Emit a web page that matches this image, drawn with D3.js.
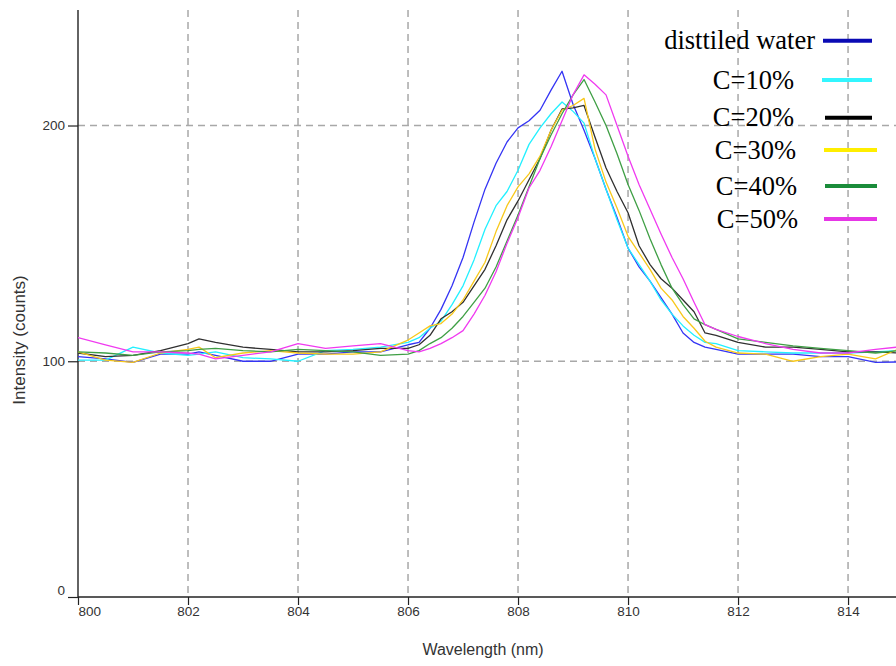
<!DOCTYPE html>
<html>
<head>
<meta charset="utf-8">
<script src="https://cdn.jsdelivr.net/npm/d3@7"></script>
<style>
  html, body { margin: 0; padding: 0; background: #fff; }
  svg { display: block; }
</style>
</head>
<body>
<svg id="chart" width="896" height="666"></svg>
<script>
// ---------------- data ----------------
const wavelengths = [800.0, 800.5, 801.0, 801.5, 802.0, 802.2, 802.5, 803.0, 803.5, 804.0, 804.5, 805.0, 805.5,
  806.0, 806.2, 806.4, 806.6, 806.8, 807.0, 807.2, 807.4, 807.6, 807.8, 808.0, 808.2, 808.4, 808.6,
  808.8, 809.0, 809.2, 809.4, 809.6, 809.8, 810.0, 810.2, 810.4, 810.6, 810.8, 811.0, 811.2, 811.4,
  811.6, 812.0, 812.5, 813.0, 813.5, 814.0, 814.5, 814.9];

const distilledWater = [102, 101, 99.5, 103, 103, 104, 102.5, 100, 100, 103, 103, 104, 104,
  107, 108, 114, 122, 132, 144, 159, 173, 184, 193, 199, 202, 206.5, 215,
  223, 209, 198, 186, 173, 161, 148, 140, 134, 127, 120, 112, 108, 106,
  105, 103, 103, 103, 102, 102, 99.5, 99.7];

const c10 = [100.5, 100.5, 106, 103.5, 102.5, 103, 104, 101.5, 101, 100, 104.5, 105, 106,
  108, 110, 114, 117, 124, 132, 143, 156, 166, 172, 181, 192, 199, 205,
  210, 206, 201, 186, 173, 160, 148, 141, 134, 126, 120, 115, 111, 108,
  107.5, 104.5, 104, 103.5, 103.5, 103.5, 104, 104.5];

const c20 = [103.5, 102, 102.5, 104.5, 107.5, 109.5, 108, 106, 105, 104, 104, 104.5, 105.5,
  105.5, 107, 111, 118, 121, 125, 132, 139, 149, 160, 168, 177, 186, 198,
  207, 207.5, 208.5, 195, 182, 172, 163, 149, 141, 135, 131, 126, 121, 112,
  111, 108, 106, 106, 105, 104, 104, 103.5];

const c30 = [104, 100.5, 99.5, 103.5, 105, 106, 101.5, 103.5, 104.5, 103.5, 103, 103, 104,
  109, 112, 115, 116, 120, 126, 134, 142, 155, 166, 174, 179.5, 187, 198,
  206.5, 208.5, 211.5, 190, 176, 165, 153, 146, 139, 131, 126, 119, 114, 108.5,
  106, 103.5, 103, 100, 102, 103, 101, 105];

const c40 = [104, 103.5, 102.5, 104, 104.5, 105, 105.5, 104.5, 104, 105, 104.5, 104, 102.5,
  103, 104.5, 107.5, 110, 114, 119, 125, 131, 140, 151, 162, 174, 186, 196,
  205, 213, 219.5, 210, 200, 188, 175, 164, 152, 141, 131, 124, 118, 115.5,
  113.5, 109.5, 108, 106.5, 105.5, 104.5, 103.5, 104.5];

const c50 = [110, 107, 104, 104, 103.5, 103, 101, 102.5, 104, 107.5, 105.5, 106.5, 107.5,
  104.5, 104, 105.5, 107.5, 110, 113, 120, 128, 138, 150, 161, 173.5, 181, 191,
  202, 213, 221.5, 217.5, 213, 200, 187, 175, 164.5, 154, 144, 135, 125, 115.5,
  113.5, 110.5, 107.5, 105, 103.5, 103.5, 105, 106];

const seriesNames = ["disttiled water", "C=10%", "C=20%", "C=30%", "C=40%", "C=50%"];
const seriesValues = [distilledWater, c10, c20, c30, c40, c50];
const lineColors = ["#3434f4", "#22f0ff", "#303030", "#f8c81a", "#3f9f45", "#f03af0"];
const legendColors = ["#0a0ab4", "#33f6ff", "#000000", "#ffee00", "#1a8c3a", "#e636e6"];

const xTicks = [800, 802, 804, 806, 808, 810, 812, 814];
const yTicks = [0, 100, 200];
const xGrid = [802, 804, 806, 808, 810, 812, 814];
const yGrid = [100, 200];

// ---------------- layout ----------------
const W = 896, H = 666;
const mLeft = 78, mRight = 897, mTop = 10, mBottom = 597;
const svg = d3.select("#chart");

const x = d3.scaleLinear().domain([800, 814.89]).range([mLeft, mRight]);
const y = d3.scaleLinear().domain([0, 249]).range([mBottom, mTop]);

svg.append("defs").append("clipPath").attr("id", "plotclip")
  .append("rect").attr("x", mLeft).attr("y", mTop).attr("width", W - mLeft).attr("height", mBottom - mTop);

// grid
const grid = svg.append("g").attr("stroke", "#a8a8a8").attr("stroke-width", 1.5)
  .attr("stroke-dasharray", "7,5");
grid.selectAll("line.vx").data(xGrid).join("line").attr("class", "vx")
  .attr("x1", d => x(d)).attr("x2", d => x(d)).attr("y1", mTop).attr("y2", mBottom);
grid.selectAll("line.hy").data(yGrid).join("line").attr("class", "hy")
  .attr("x1", mLeft).attr("x2", W).attr("y1", d => y(d)).attr("y2", d => y(d));

// axes
const axisFont = "'Liberation Sans', Arial, sans-serif";
const xAxis = svg.append("g").attr("transform", `translate(0,${mBottom})`)
  .call(d3.axisBottom(x).tickValues(xTicks).tickSize(8).tickPadding(1).tickFormat(d3.format("d")));
const yAxis = svg.append("g").attr("transform", `translate(${mLeft},0)`)
  .call(d3.axisLeft(y).tickValues(yTicks).tickSize(10).tickPadding(3).tickFormat(d3.format("d")));

[xAxis, yAxis].forEach(a => {
  a.select(".domain").attr("stroke", "#222").attr("stroke-width", 1.4);
  a.selectAll(".tick line").attr("stroke", "#222").attr("stroke-width", 1.2);
  a.selectAll(".tick text").attr("fill", "#333").attr("font-family", axisFont).attr("font-size", 13.5);
});
xAxis.select(".domain").attr("d", `M${mLeft},0H${W}`);
yAxis.select(".domain").attr("d", `M0,${mTop}V${mBottom}`);
xAxis.selectAll(".tick text").filter(d => d === 800).attr("text-anchor", "start");
yAxis.selectAll(".tick text").filter(d => d === 0).attr("dy", "-0.2em");

// axis titles
svg.append("text")
  .attr("x", 483).attr("y", 655)
  .attr("text-anchor", "middle")
  .attr("font-family", axisFont).attr("font-size", 16).attr("fill", "#333")
  .text("Wavelength (nm)");
svg.append("text")
  .attr("transform", `translate(25,340) rotate(-90)`)
  .attr("text-anchor", "middle")
  .attr("font-family", axisFont).attr("font-size", 17).attr("fill", "#333")
  .text("Intensity (counts)");

// lines
const line = d3.line().x((d, i) => x(wavelengths[i])).y(d => y(d));
const lines = svg.append("g").attr("clip-path", "url(#plotclip)");
lines.selectAll("path").data(seriesValues).join("path")
  .attr("d", d => line(d))
  .attr("fill", "none")
  .attr("stroke", (d, i) => lineColors[i])
  .attr("stroke-width", 1.3)
  .attr("stroke-linejoin", "round");

// legend
const legendY = [40.7, 80, 117.7, 150, 186, 219];
const legendTextEnd = [815, 794, 794, 796, 797, 798];
const legendLineX = [[823, 872], [822, 872], [825, 872], [824, 877], [825, 877], [824, 877]];
const legend = svg.append("g");
const items = legend.selectAll("g").data(seriesNames).join("g");
items.append("text")
  .attr("x", (d, i) => legendTextEnd[i])
  .attr("y", (d, i) => legendY[i] + 8.5)
  .attr("text-anchor", "end")
  .attr("font-family", "'Liberation Serif', 'Times New Roman', serif")
  .attr("font-size", 26.5).attr("fill", "#000")
  .text(d => d);
items.append("line")
  .attr("x1", (d, i) => legendLineX[i][0]).attr("x2", (d, i) => legendLineX[i][1])
  .attr("y1", (d, i) => legendY[i]).attr("y2", (d, i) => legendY[i])
  .attr("stroke", (d, i) => legendColors[i]).attr("stroke-width", 4);
</script>
</body>
</html>
